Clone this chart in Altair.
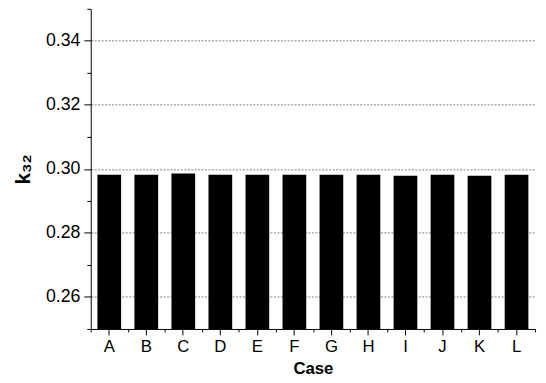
import altair as alt
import pandas as pd

cases = ["A", "B", "C", "D", "E", "F", "G", "H", "I", "J", "K", "L"]
k32 = [0.2982, 0.2982, 0.2986, 0.2982, 0.2982, 0.2982, 0.2982, 0.2982, 0.2979, 0.2982, 0.2979, 0.2982]
y_ticks = [0.25, 0.26, 0.27, 0.28, 0.29, 0.30, 0.31, 0.32, 0.33, 0.34, 0.35]

df = pd.DataFrame({"case": cases, "k32": k32})

FONT = "Liberation Sans"
major = "round(datum.value*100) % 2 == 0"

yaxis = alt.Axis(
    values=y_ticks,
    title="k₃₂",
    titleFont=FONT,
    titleFontSize=21,
    titleFontWeight="bold",
    titleColor="black",
    titlePadding=12,
    labelExpr=f"{major} ? format(datum.value, '.2f') : ''",
    labelFont=FONT,
    labelFontSize=18,
    labelColor="black",
    labelPadding=4,
    tickSize={"condition": {"test": major, "value": 7}, "value": 4},
    tickColor="black",
    domainColor="black",
    grid=True,
    gridColor="#808080",
    gridDash=[2, 1.5],
    gridOpacity={"condition": {"test": f"{major} && datum.value > 0.255 && datum.value < 0.345", "value": 1}, "value": 0},
)
yscale = alt.Scale(domain=[0.25, 0.35], nice=False, zero=False)

xscale = alt.Scale(paddingInner=0, paddingOuter=0)

bars = alt.Chart(df).mark_bar(color="black", width=alt.RelativeBandSize(0.64), clip=True).encode(
    x=alt.X(
        "case:N",
        scale=xscale,
        sort=cases,
        axis=alt.Axis(
            title="Case",
            titleFont=FONT,
            titleFontSize=17,
            titleFontWeight="bold",
            titleColor="black",
            titlePadding=6,
            labelAngle=0,
            labelFont=FONT,
            labelFontSize=17,
            labelColor="black",
            labelPadding=4,
            tickSize=6,
            tickColor="black",
            domainColor="black",
            orient="bottom",
        ),
    ),
    y=alt.Y("k32:Q", scale=yscale, axis=yaxis),
)

minor = alt.Chart(df).mark_bar(opacity=0).encode(
    x=alt.X(
        "case:N",
        scale=xscale,
        sort=cases,
        axis=alt.Axis(
            tickBand="extent",
            labels=False,
            domain=False,
            tickSize=3,
            tickColor="black",
            title=None,
            orient="bottom",
        ),
    ),
    y=alt.Y("k32:Q", scale=yscale, axis=yaxis),
)

chart = (
    alt.layer(bars, minor)
    .resolve_axis(x="independent")
    .properties(
        width=451,
        height=325,
        autosize=alt.AutoSizeParams(type="none"),
        padding={"left": 84, "top": -2, "right": 3, "bottom": 52},
        background="white",
    )
    .configure_view(stroke=None)
)

chart.save("out.html", embed_options={"renderer": "svg", "actions": False})
